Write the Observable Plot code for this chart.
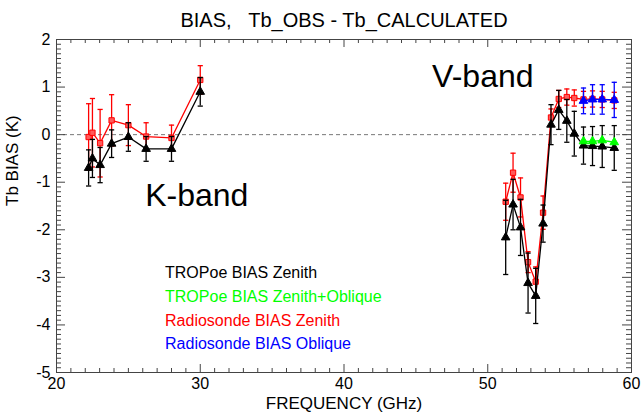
<!DOCTYPE html>
<html>
<head>
<meta charset="utf-8">
<script src="https://cdn.jsdelivr.net/npm/d3@7"></script>
<script src="https://cdn.jsdelivr.net/npm/@observablehq/plot@0.6"></script>
<style>
  html, body { margin: 0; padding: 0; background: #fff; }
  #chart { width: 643px; height: 414px; }
</style>
</head>
<body>
<div id="chart"></div>
<script>
// ---- Data ----
const kFreq = [22.234, 22.5, 23.034, 23.834, 25.0, 26.234, 28.0, 30.0];
const vFreq = [51.248, 51.76, 52.28, 52.804, 53.336, 53.848, 54.4, 54.94, 55.5, 56.02, 56.66, 57.288, 57.964, 58.8];
const obliqueFreq = [56.66, 57.288, 57.964, 58.8];

// TROPoe BIAS Zenith (black)
const tropZenK = [-0.70, -0.50, -0.64, -0.19, -0.05, -0.30, -0.30, 0.90];
const tropZenKErr = [0.38, 0.40, 0.37, 0.29, 0.30, 0.26, 0.26, 0.30];
const tropZenV = [-2.16, -1.47, -1.95, -3.12, -3.39, -1.87, 0.21, 0.52, 0.29, 0.02, -0.23, -0.24, -0.25, -0.28];
const tropZenVErr = [0.78, 0.53, 0.59, 0.63, 0.58, 0.39, 0.42, 0.41, 0.45, 0.47, 0.39, 0.41, 0.44, 0.47];
// TROPoe BIAS Zenith+Oblique (green)
const tropZenOblV = [-0.14, -0.14, -0.12, -0.16];
// Radiosonde BIAS Zenith (red)
const sondeZenK = [-0.05, 0.04, -0.18, 0.30, 0.20, -0.04, -0.07, 1.15];
const sondeZenKErr = [0.70, 0.72, 0.71, 0.54, 0.43, 0.29, 0.27, 0.30];
const sondeZenV = [-1.41, -0.80, -1.32, -2.68, -3.09, -1.64, 0.36, 0.75, 0.79, 0.77, 0.74, 0.75, 0.74, 0.72];
const sondeZenVErr = [0.39, 0.41, 0.41, 0.22, 0.31, 0.35, 0.18, 0.18, 0.17, 0.17, 0.17, 0.17, 0.17, 0.17];
// Radiosonde BIAS Oblique (blue)
const sondeOblV = [0.71, 0.74, 0.74, 0.73];
const sondeOblVErr = [0.27, 0.31, 0.31, 0.37];

// Tick labels
const xMajorTicks = [20, 30, 40, 50, 60];
const yMajorTicks = [-5, -4, -3, -2, -1, 0, 1, 2];

// Text annotations
const titleText = "BIAS,\u00a0\u00a0\u00a0Tb_OBS - Tb_CALCULATED";
const xLabel = "FREQUENCY (GHz)";
const yLabel = "Tb BIAS (K)";
const legendNames = ["TROPoe BIAS Zenith", "TROPoe BIAS Zenith+Oblique", "Radiosonde BIAS Zenith", "Radiosonde BIAS Oblique"];
const legendColors = ["#000000", "#00ff00", "#ff0000", "#0000ff"];
const legendY = [-2.91, -3.41, -3.91, -4.40];
const legendX = 27.55;
const bandNames = ["K-band", "V-band"];
const bandX = [26.17, 46.13];
const bandY = [-1.29, 1.21];

// ---- Build tables ----
function rows(freqs, vals, errs, band) {
  return freqs.map((f, i) => ({f, v: vals[i], e: errs ? errs[i] : 0, band}));
}
const tropZen = [...rows(kFreq, tropZenK, tropZenKErr, "K"), ...rows(vFreq, tropZenV, tropZenVErr, "V")];
const sondeZen = [...rows(kFreq, sondeZenK, sondeZenKErr, "K"), ...rows(vFreq, sondeZenV, sondeZenVErr, "V")];
const tropZenObl = rows(obliqueFreq, tropZenOblV, null, "V");
const sondeObl = rows(obliqueFreq, sondeOblV, sondeOblVErr, "V");

const xMinorTicks = d3.range(20, 61).filter(d => d % 10 !== 0);
const yMinorTicks = d3.range(-50, 21).map(d => d / 10).filter(d => !Number.isInteger(d));

// ---- Layout ----
const W = 643, H = 414;
const mTop = 39, mBottom = 42, mLeft = 56, mRight = 12;
const innerW = W - mLeft - mRight, innerH = H - mTop - mBottom;

const capSymbol = {draw(ctx) { ctx.moveTo(-2.6, 0); ctx.lineTo(2.6, 0); }};

function series(data, color, symbol, r, fill, withErr) {
  const m = [Plot.line(data, {x: "f", y: "v", z: "band", stroke: color, strokeWidth: 1.3})];
  if (withErr) {
    m.push(Plot.ruleX(data, {x: "f", y1: d => d.v - d.e, y2: d => d.v + d.e, stroke: color, strokeWidth: 1.3}));
    m.push(Plot.dot(data, {x: "f", y: d => d.v + d.e, symbol: capSymbol, stroke: color, fill: "none", strokeWidth: 1.3}));
    m.push(Plot.dot(data, {x: "f", y: d => d.v - d.e, symbol: capSymbol, stroke: color, fill: "none", strokeWidth: 1.3}));
  }
  m.push(Plot.dot(data, {x: "f", y: "v", symbol, r, fill, stroke: color, strokeWidth: 1}));
  return m;
}

const axisColor = "#444";
const legendRows = legendNames.map((name, i) => ({name, color: legendColors[i], v: legendY[i]}));
const bandRows = bandNames.map((name, i) => ({name, f: bandX[i], v: bandY[i]}));

// inward ticks (IDL style) on all four sides
function xTicks(values, len) {
  return [
    Plot.ruleX(values, {x: d => d, insetTop: innerH - len, stroke: axisColor}),
    Plot.ruleX(values, {x: d => d, insetBottom: innerH - len, stroke: axisColor})
  ];
}
function yTicks(values, len) {
  return [
    Plot.ruleY(values, {y: d => d, insetRight: innerW - len, stroke: axisColor}),
    Plot.ruleY(values, {y: d => d, insetLeft: innerW - len, stroke: axisColor})
  ];
}

const plainInt = d => String(d);

const chart = Plot.plot({
  width: W,
  height: H,
  marginTop: mTop,
  marginBottom: mBottom,
  marginLeft: mLeft,
  marginRight: mRight,
  style: {fontFamily: "'Liberation Sans', Arial, Helvetica, sans-serif", fontSize: "16px", color: "#000", background: "#fff"},
  x: {domain: [20, 60], label: null},
  y: {domain: [-5, 2], label: null},
  marks: [
    Plot.ruleY([0], {stroke: "#777", strokeDasharray: "4,3", strokeWidth: 1}),
    ...xTicks(xMinorTicks, 4),
    ...xTicks(xMajorTicks.slice(1, -1), 8),
    ...yTicks(yMinorTicks, 5),
    ...yTicks(yMajorTicks.slice(1, -1), 9),
    ...series(sondeZen, "#ff0000", "square", 3, "#ff5a5a", true),
    ...series(tropZen, "#000000", "triangle", 3.2, "#000000", true),
    ...series(tropZenObl, "#00ff00", "triangle", 3.2, "#00ff00", false),
    ...series(sondeObl, "#0000ff", "triangle", 3.2, "#0000ff", true),
    Plot.frame({stroke: axisColor}),
    // Tick labels
    Plot.axisX({anchor: "bottom", ticks: xMajorTicks, tickFormat: plainInt, tickSize: 0, tickPadding: 5, fontSize: 16, label: null}),
    Plot.axisY({anchor: "left", ticks: yMajorTicks, tickFormat: plainInt, tickSize: 0, tickPadding: 6, fontSize: 16, label: null}),
    // Titles
    Plot.text([titleText], {frameAnchor: "top", dy: -19, lineAnchor: "middle", fontSize: 20}),
    Plot.text([xLabel], {frameAnchor: "bottom", dy: 31, lineAnchor: "middle", fontSize: 17}),
    Plot.text([yLabel], {frameAnchor: "left", dx: -44, rotate: -90, lineAnchor: "middle", fontSize: 17}),
    // Band annotations
    Plot.text(bandRows, {x: "f", y: "v", text: "name", textAnchor: "start", lineAnchor: "middle", fontSize: 32}),
    // Legend
    Plot.text(legendRows, {x: () => legendX, y: "v", text: "name", fill: "color", textAnchor: "start", lineAnchor: "middle", fontSize: 16})
  ]
});
document.getElementById("chart").appendChild(chart);
</script>
</body>
</html>
